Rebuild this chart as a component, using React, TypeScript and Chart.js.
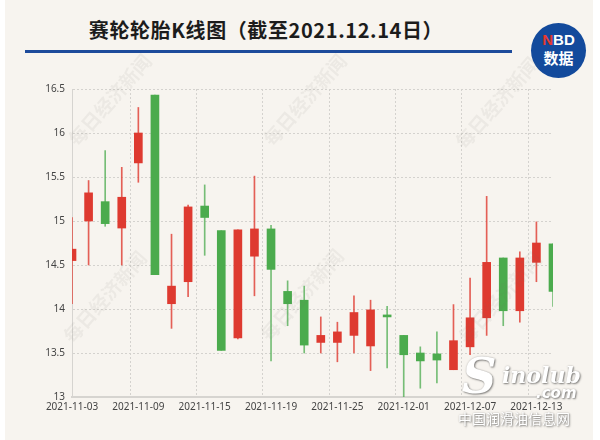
import React, { useEffect, useRef } from "react";
import { Chart, registerables } from "chart.js";

Chart.register(...registerables);

const dates = [
  "2021-11-03", "2021-11-04", "2021-11-05", "2021-11-08", "2021-11-09", "2021-11-10",
  "2021-11-11", "2021-11-12", "2021-11-15", "2021-11-16", "2021-11-17", "2021-11-18",
  "2021-11-19", "2021-11-22", "2021-11-23", "2021-11-24", "2021-11-25", "2021-11-26",
  "2021-11-29", "2021-11-30", "2021-12-01", "2021-12-02", "2021-12-03", "2021-12-06",
  "2021-12-07", "2021-12-08", "2021-12-09", "2021-12-10", "2021-12-13", "2021-12-14",
];
const openPrices = [14.55, 15.0, 15.22, 14.92, 15.66, 16.43, 14.06, 14.31, 15.17, 14.89, 13.67, 14.6, 14.91, 14.2, 14.1, 13.62, 13.62, 13.7, 13.58, 13.93, 13.7, 13.5, 13.49, 13.31, 13.57, 13.9, 14.58, 13.98, 14.53, 14.74];
const closePrices = [14.68, 15.32, 14.97, 15.27, 16.0, 14.39, 14.26, 15.16, 15.04, 13.53, 14.9, 14.91, 14.45, 14.06, 13.59, 13.7, 13.74, 13.96, 13.99, 13.91, 13.48, 13.41, 13.42, 13.64, 13.9, 14.53, 13.98, 14.58, 14.75, 14.2];
const highPrices = [15.04, 15.46, 15.8, 15.61, 16.29, 16.43, 14.85, 15.18, 15.41, 14.89, 14.9, 15.51, 14.95, 14.32, 14.26, 13.91, 13.85, 14.15, 14.1, 14.03, 13.7, 13.57, 13.74, 14.05, 14.35, 15.28, 14.58, 14.65, 14.99, 14.74];
const lowPrices = [14.06, 14.5, 14.94, 14.5, 15.44, 14.39, 13.78, 14.14, 14.61, 13.53, 13.66, 14.15, 13.41, 13.81, 13.5, 13.5, 13.4, 13.5, 13.3, 13.33, 13.0, 13.1, 13.16, 13.31, 13.48, 13.7, 13.81, 13.85, 14.31, 14.03];
const yMin = 13;
const yMax = 16.5;
const yStep = 0.5;
const labelEvery = 4;

const titleText = "赛轮轮胎K线图（截至2021.12.14日）";
const watermarkText = "每日经济新闻";

const UP = "#de3a30";
const DOWN = "#4bab4d";
const UP_WICK = "rgba(222,58,48,0.8)";
const DOWN_WICK = "rgba(75,171,77,0.75)";

const watermarkPlugin = {
  id: "watermark",
  afterDatasetsDraw(chart: any) {
    const ctx = chart.ctx;
    const spots = [
      [110, 100], [305, 100], [497, 103],
      [105, 297], [302, 295], [500, 298],
    ];
    ctx.save();
    ctx.font = "bold 19px 'Noto Sans CJK SC'";
    ctx.fillStyle = "rgba(120,110,100,0.08)";
    ctx.textAlign = "center";
    ctx.textBaseline = "middle";
    for (const [x, y] of spots) {
      ctx.save();
      ctx.translate(x, y);
      ctx.rotate(-0.85);
      ctx.fillText(watermarkText, 0, 0);
      ctx.restore();
    }
    ctx.restore();
  },
};

export default function App() {
  const canvasRef = useRef<HTMLCanvasElement | null>(null);

  useEffect(() => {
    if (!canvasRef.current) return;
    const up = openPrices.map((o, i) => closePrices[i] >= o);
    const chart = new Chart(canvasRef.current, {
      type: "bar",
      data: {
        labels: dates,
        datasets: [
          {
            label: "body",
            data: dates.map((_, i) => [openPrices[i], closePrices[i]]),
            backgroundColor: up.map((u) => (u ? UP : DOWN)),
            borderWidth: 0,
            barThickness: 8,
            grouped: false,
            minBarLength: 2,
          } as any,
          {
            label: "wick",
            data: dates.map((_, i) => [lowPrices[i], highPrices[i]]),
            backgroundColor: up.map((u) => (u ? UP_WICK : DOWN_WICK)),
            borderWidth: 0,
            barThickness: 1,
            grouped: false,
          } as any,
        ],
      },
      options: {
        responsive: false,
        animation: false,
        layout: { padding: { left: 22, right: 47, top: 89, bottom: 23 } },
        plugins: { legend: { display: false }, tooltip: { enabled: false } },
        scales: {
          x: {
            type: "category",
            offset: false,
            afterFit: (s: any) => { s.height = 20; },
            grid: {
              color: (c: any) => (c.index % labelEvery === 0 ? "#d4d2ce" : "rgba(0,0,0,0)"),
              drawTicks: false,
              lineWidth: 1,
            },
            border: { display: true, color: "#d6d4d0", width: 2, dash: [2, 2] },
            ticks: {
              autoSkip: false,
              maxRotation: 0,
              padding: 4,
              color: "#444",
              font: { family: "'Noto Sans'", size: 10 },
              callback: function (this: any, v: any, i: number) {
                return i % labelEvery === 0 ? dates[i] : "";
              },
            },
          },
          y: {
            min: yMin,
            max: yMax,
            afterFit: (s: any) => { s.width = 50; },
            grid: { color: "#d4d2ce", drawTicks: false, lineWidth: 1 },
            border: { display: true, color: "#d6d4d0", width: 1, dash: [2, 2] },
            ticks: {
              stepSize: yStep,
              padding: 7,
              color: "#444",
              font: { family: "'Noto Sans'", size: 10 },
              callback: (v: any) => String(v),
            },
          },
        },
      } as any,
      plugins: [watermarkPlugin],
    });
    return () => chart.destroy();
  }, []);

  const shadow = "1px 1px 2px rgba(0,0,0,0.45), 0 0 2px rgba(0,0,0,0.25)";

  return (
    <div style={{ position: "absolute", left: 0, top: 0, width: 600, height: 440, background: "#ffffff", overflow: "hidden" }}>
      <div style={{ position: "absolute", left: 5, top: 0, width: 588, height: 440, background: "#f7f4ef" }} />
      <div
        style={{
          position: "absolute", left: 0, top: 16, width: 532, textAlign: "center",
          fontFamily: "'Noto Sans CJK SC'", fontWeight: 700, fontSize: 20, color: "#1c1c1c", lineHeight: "28px",
          letterSpacing: "0.6px",
        }}
      >
        {titleText}
      </div>
      <div style={{ position: "absolute", left: 25, top: 50, width: 487, height: 3, background: "#1d4b9b" }} />
      <div
        style={{
          position: "absolute", left: 531, top: 23, width: 55, height: 55, borderRadius: "50%", background: "#134a9c",
          fontFamily: "'Noto Sans CJK SC'", fontWeight: 700, color: "#fff", textAlign: "center",
        }}
      >
        <div style={{ position: "absolute", left: 0, top: 9, width: 55, fontSize: 15, lineHeight: "16px", fontFamily: "'Liberation Sans'" }}>
          <span style={{ color: "#e8392f" }}>N</span>BD
        </div>
        <div style={{ position: "absolute", left: 0, top: 26, width: 55, fontSize: 15, lineHeight: "18px" }}>数据</div>
      </div>
      <canvas ref={canvasRef} width={600} height={440} style={{ position: "absolute", left: 0, top: 0 }} />
      <div style={{ position: "absolute", left: 462, top: 350, color: "#fff", fontFamily: "'DejaVu Serif'", fontStyle: "italic", fontWeight: 700, fontSize: 48, lineHeight: "52px", textShadow: shadow }}>S</div>
      <div style={{ position: "absolute", left: 502, top: 362, color: "#fff", fontFamily: "'DejaVu Serif'", fontStyle: "italic", fontWeight: 700, fontSize: 22, lineHeight: "26px", textShadow: shadow }}>inolub</div>
      <div style={{ position: "absolute", left: 536, top: 384, color: "#fff", fontFamily: "'DejaVu Sans'", fontStyle: "italic", fontWeight: 700, fontSize: 15, lineHeight: "18px", textShadow: shadow }}>.com</div>
      <div style={{ position: "absolute", left: 458, top: 409, color: "#fff", fontFamily: "'Noto Sans CJK SC'", fontSize: 14, lineHeight: "18px", textShadow: shadow }}>中国润滑油信息网</div>
    </div>
  );
}
